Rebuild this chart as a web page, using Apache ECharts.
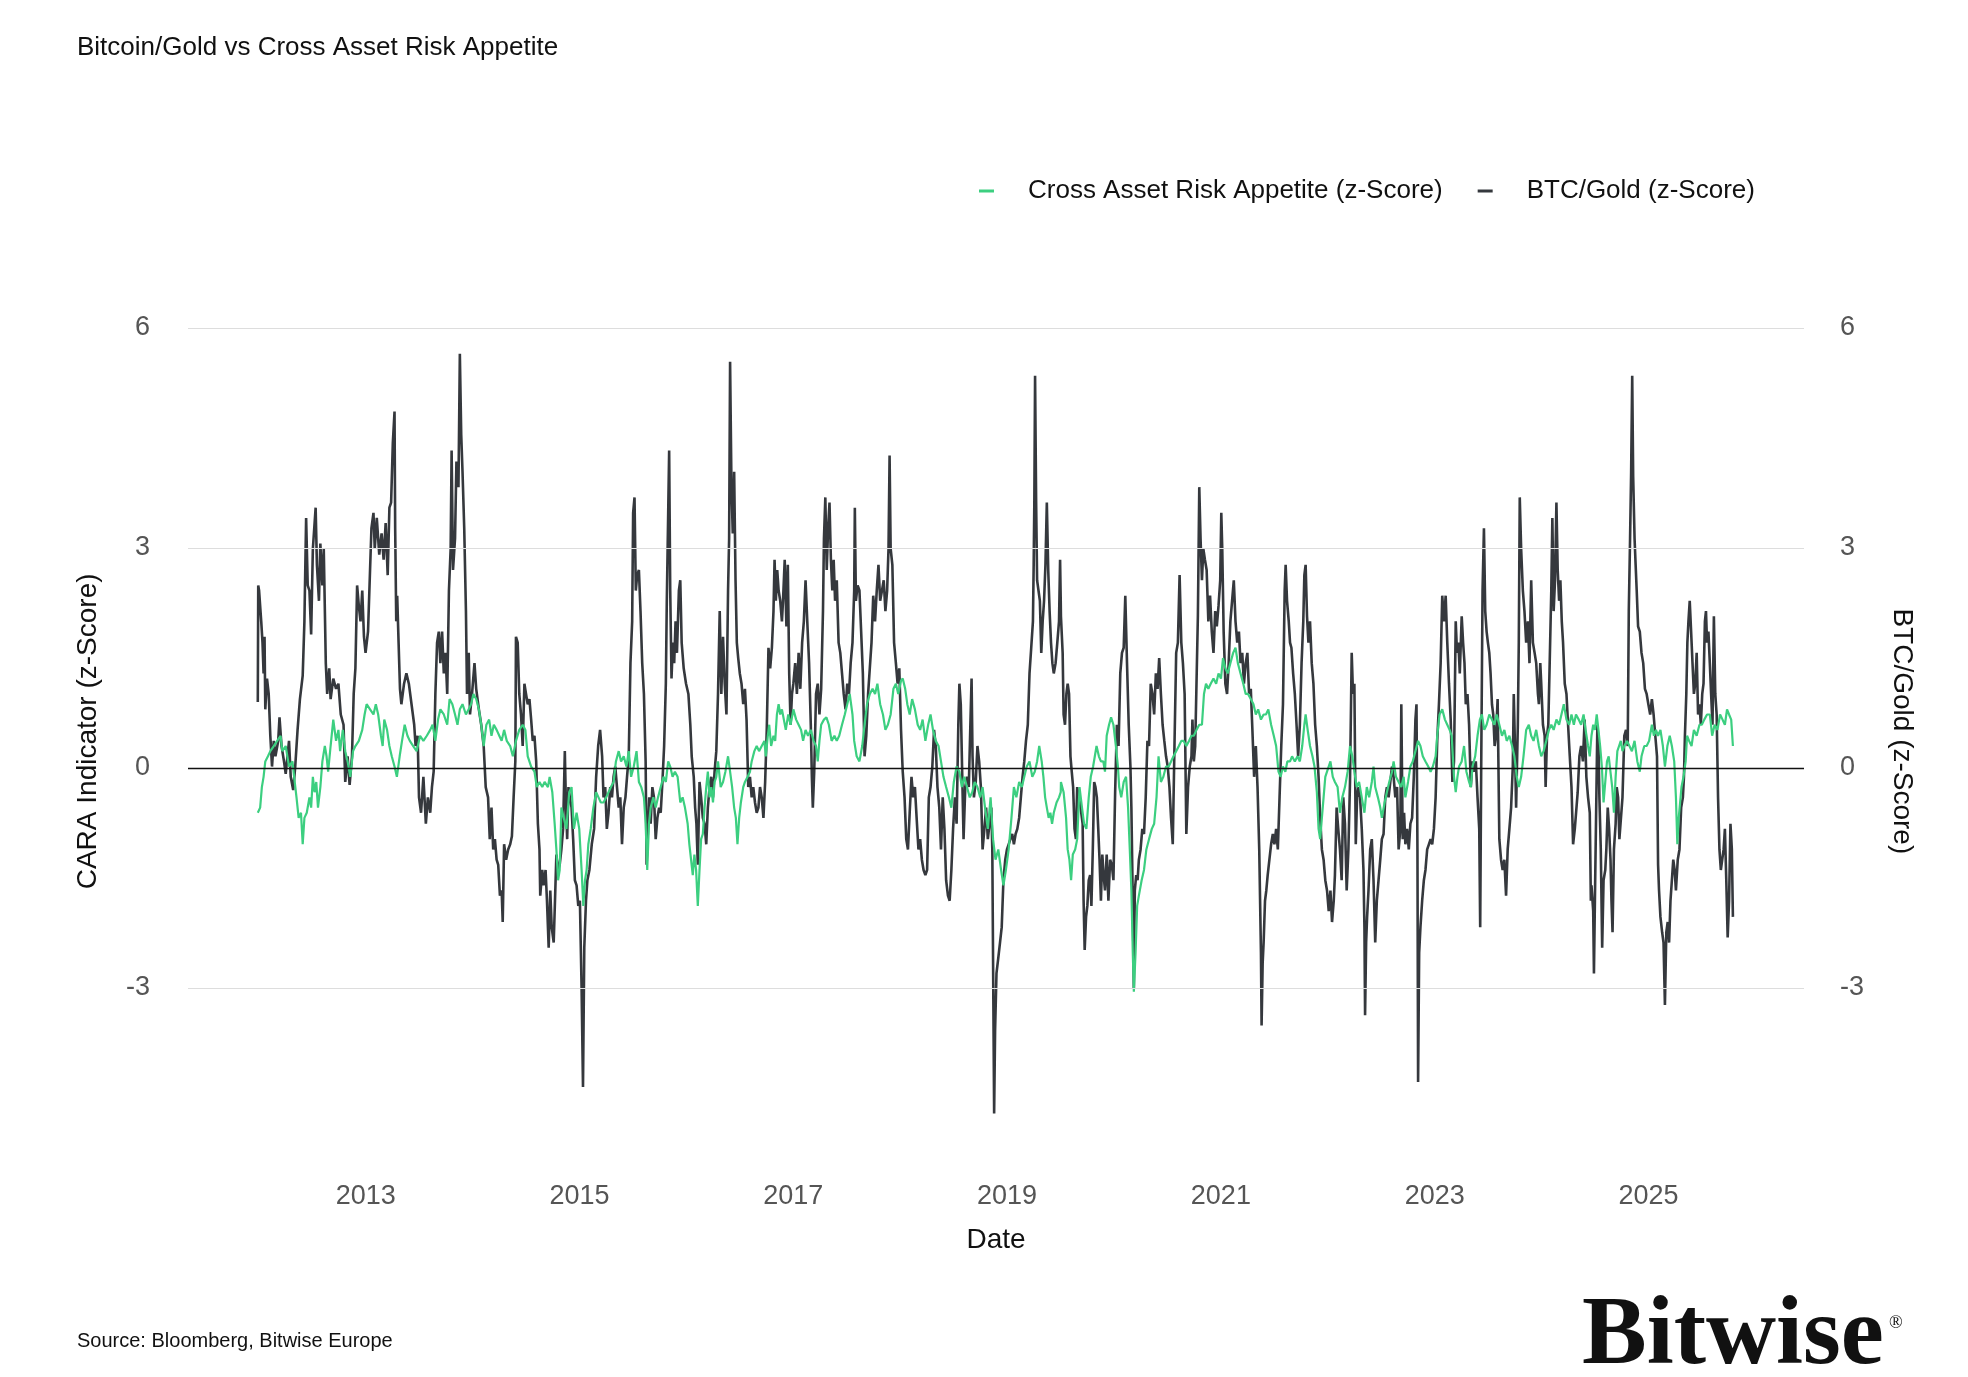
<!DOCTYPE html>
<html>
<head>
<meta charset="utf-8">
<script src="https://cdn.jsdelivr.net/npm/echarts@6/dist/echarts.min.js"></script>
<style>
html,body{margin:0;padding:0;background:#ffffff;}
#chart{width:1968px;height:1377px;}
</style>
</head>
<body>
<div id="chart"></div>
<script>
// ---------- data (decimal year, z-score) ----------
const xTickYears = [2013, 2015, 2017, 2019, 2021, 2023, 2025];
const yTickValues = [-3, 0, 3, 6];
const seriesNames = ['Cross Asset Risk Appetite (z-Score)', 'BTC/Gold (z-Score)'];

const cara = [
[2011.991,-0.61],[2012.013,-0.54],[2012.029,-0.26],[2012.045,-0.12],[2012.061,0.09],[2012.086,0.16],[2012.108,0.23],[2012.140,0.30],[2012.172,0.37],[2012.204,0.44],[2012.220,0.23],[2012.252,0.30],[2012.283,0.02],[2012.315,0.09],[2012.331,-0.12],[2012.353,-0.40],[2012.373,-0.68],[2012.395,-0.61],[2012.411,-1.04],[2012.427,-0.68],[2012.449,-0.61],[2012.474,-0.40],[2012.490,-0.54],[2012.506,-0.12],[2012.522,-0.33],[2012.538,-0.19],[2012.554,-0.54],[2012.576,-0.26],[2012.595,0.09],[2012.618,0.30],[2012.634,0.16],[2012.649,-0.05],[2012.672,0.30],[2012.697,0.66],[2012.723,0.37],[2012.745,0.52],[2012.761,0.23],[2012.786,0.52],[2012.809,0.23],[2012.831,0.09],[2012.856,-0.12],[2012.882,0.23],[2012.904,0.30],[2012.936,0.37],[2012.968,0.52],[2012.990,0.73],[2013.009,0.87],[2013.041,0.80],[2013.073,0.73],[2013.095,0.87],[2013.117,0.73],[2013.143,0.44],[2013.159,0.30],[2013.174,0.66],[2013.200,0.52],[2013.222,0.30],[2013.244,0.16],[2013.270,0.02],[2013.292,-0.12],[2013.318,0.16],[2013.340,0.37],[2013.365,0.59],[2013.391,0.44],[2013.413,0.37],[2013.445,0.30],[2013.477,0.23],[2013.509,0.44],[2013.540,0.37],[2013.572,0.44],[2013.604,0.52],[2013.626,0.59],[2013.652,0.37],[2013.677,0.66],[2013.699,0.80],[2013.731,0.73],[2013.763,0.59],[2013.785,0.94],[2013.811,0.87],[2013.836,0.73],[2013.859,0.59],[2013.881,0.80],[2013.906,0.87],[2013.938,0.73],[2013.964,0.80],[2013.986,0.87],[2014.008,1.01],[2014.034,0.94],[2014.059,0.80],[2014.081,0.59],[2014.104,0.30],[2014.129,0.59],[2014.155,0.66],[2014.177,0.44],[2014.199,0.59],[2014.225,0.52],[2014.250,0.44],[2014.272,0.37],[2014.295,0.52],[2014.320,0.37],[2014.352,0.30],[2014.377,0.16],
[2014.406,0.37],[2014.437,0.52],[2014.469,0.59],[2014.494,0.52],[2014.516,0.16],[2014.548,0.02],[2014.579,-0.05],[2014.601,-0.26],[2014.626,-0.19],[2014.652,-0.26],[2014.674,-0.19],[2014.705,-0.26],[2014.721,-0.12],[2014.746,-0.33],[2014.768,-0.76],[2014.784,-1.11],[2014.800,-1.53],[2014.815,-1.39],[2014.831,-0.54],[2014.853,-0.68],[2014.878,-0.83],[2014.904,-0.33],[2014.926,-0.26],[2014.948,-0.83],[2014.973,-0.61],[2014.998,-0.83],[2015.020,-1.39],[2015.036,-1.88],[2015.052,-1.53],[2015.067,-1.39],[2015.083,-1.04],[2015.105,-0.83],[2015.130,-0.54],[2015.156,-0.33],[2015.178,-0.40],[2015.200,-0.47],[2015.225,-0.47],[2015.250,-0.40],[2015.272,-0.33],[2015.294,-0.26],[2015.319,-0.19],[2015.341,0.09],[2015.367,0.23],[2015.389,0.09],[2015.414,0.16],[2015.439,0.02],[2015.461,0.23],[2015.483,-0.12],[2015.508,0.02],[2015.534,0.23],[2015.556,-0.19],[2015.578,-0.26],[2015.603,-0.40],[2015.619,-0.76],[2015.634,-1.39],[2015.650,-0.76],[2015.666,-0.54],[2015.691,-0.40],[2015.713,-0.54],[2015.735,-0.40],[2015.760,-0.26],[2015.786,-0.12],[2015.808,-0.19],[2015.830,0.09],[2015.849,0.02],[2015.871,-0.12],[2015.893,-0.05],[2015.918,-0.12],[2015.943,-0.47],[2015.965,-0.40],[2015.987,-0.54],[2016.012,-0.76],[2016.028,-1.04],[2016.044,-1.25],[2016.060,-1.46],[2016.075,-1.18],[2016.091,-1.39],[2016.107,-1.88],[2016.123,-1.39],[2016.138,-0.97],[2016.154,-0.90],[2016.170,-0.54],[2016.186,-0.26],[2016.201,-0.05],[2016.217,-0.40],[2016.233,-0.26],[2016.249,-0.47],[2016.264,-0.19],[2016.280,-0.12],[2016.296,0.09],[2016.321,-0.26],[2016.343,-0.19],[2016.365,-0.05],[2016.390,0.16],[2016.409,-0.05],[2016.428,-0.26],[2016.447,-0.54],[2016.463,-0.68],[2016.478,-1.04],[2016.494,-0.68],[2016.510,-0.47],[2016.532,-0.26],[2016.548,-0.19],[2016.573,-0.12],[2016.595,-0.05],[2016.611,0.09],[2016.636,0.23],[2016.658,0.30],[2016.680,0.23],[2016.705,0.30],[2016.730,0.37],[2016.743,0.16],[2016.762,0.44],[2016.775,0.59],[2016.793,0.30],[2016.815,0.44],[2016.831,0.37],[2016.847,0.73],[2016.863,0.87],[2016.878,0.73],[2016.894,0.80],
[2016.904,0.80],[2016.930,0.52],[2016.953,0.73],[2016.975,0.59],[2017.001,0.80],[2017.027,0.66],[2017.050,0.59],[2017.073,0.52],[2017.092,0.37],[2017.115,0.52],[2017.138,0.44],[2017.164,0.52],[2017.190,0.37],[2017.213,0.30],[2017.229,0.09],[2017.245,0.37],[2017.261,0.59],[2017.287,0.66],[2017.310,0.69],[2017.333,0.59],[2017.359,0.37],[2017.385,0.44],[2017.407,0.37],[2017.430,0.44],[2017.456,0.59],[2017.482,0.73],[2017.505,0.87],[2017.528,1.01],[2017.554,0.73],[2017.570,0.37],[2017.593,0.16],[2017.619,0.09],[2017.645,0.30],[2017.667,0.59],[2017.690,0.87],[2017.716,1.01],[2017.742,1.08],[2017.765,1.01],[2017.787,1.15],[2017.813,0.87],[2017.839,0.73],[2017.862,0.52],[2017.885,0.59],[2017.911,0.73],[2017.937,1.08],[2017.960,1.15],[2017.982,1.01],[2018.008,1.19],[2018.024,1.22],[2018.047,1.08],[2018.067,0.87],[2018.089,0.73],[2018.112,0.94],[2018.138,0.80],[2018.164,0.59],[2018.187,0.52],[2018.210,0.66],[2018.236,0.37],[2018.262,0.59],[2018.284,0.73],[2018.307,0.52],[2018.333,0.37],[2018.359,0.30],[2018.382,0.09],[2018.405,-0.12],[2018.430,-0.26],[2018.456,-0.40],[2018.479,-0.54],[2018.502,-0.19],[2018.528,0.02],[2018.554,-0.05],[2018.577,-0.26],[2018.599,-0.12],[2018.625,-0.26],[2018.651,-0.40],[2018.674,-0.33],[2018.697,-0.19],[2018.723,-0.26],[2018.749,-0.40],[2018.771,-0.26],[2018.794,-0.54],[2018.820,-0.83],[2018.846,-0.40],[2018.869,-0.97],[2018.892,-1.25],[2018.918,-1.11],[2018.944,-1.39],[2018.966,-1.60],[2018.989,-1.39],[2019.015,-1.11],[2019.041,-0.68],[2019.064,-0.26],[2019.087,-0.40],[2019.113,-0.19],[2019.138,-0.26],[2019.161,-0.12],[2019.184,0.02],[2019.210,0.09],[2019.236,-0.12],[2019.259,-0.05],[2019.281,0.09],[2019.301,0.30],[2019.324,0.09],[2019.340,-0.12],[2019.356,-0.40],[2019.372,-0.54],[2019.389,-0.68],[2019.405,-0.61],[2019.421,-0.76],[2019.437,-0.61],[2019.463,-0.47],[2019.486,-0.40],[2019.502,-0.33],
[2019.504,-0.19],[2019.529,-0.33],[2019.552,-0.68],[2019.567,-1.11],[2019.583,-1.25],[2019.599,-1.53],[2019.615,-1.18],[2019.637,-1.11],[2019.656,-0.97],[2019.678,-0.26],[2019.701,-0.54],[2019.720,-0.76],[2019.742,-0.83],[2019.764,-0.40],[2019.783,-0.12],[2019.805,0.02],[2019.821,0.16],[2019.837,0.30],[2019.859,0.16],[2019.878,0.09],[2019.900,0.09],[2019.916,-0.05],[2019.932,0.44],[2019.954,0.59],[2019.973,0.69],[2019.995,0.59],[2020.018,0.30],[2020.037,0.02],[2020.049,-0.26],[2020.068,-0.40],[2020.091,-0.19],[2020.113,-0.12],[2020.132,-0.54],[2020.148,-1.11],[2020.163,-1.67],[2020.176,-2.52],[2020.186,-3.05],[2020.202,-2.52],[2020.217,-1.88],[2020.233,-1.74],[2020.259,-1.53],[2020.281,-1.39],[2020.303,-1.11],[2020.328,-0.97],[2020.354,-0.83],[2020.376,-0.76],[2020.398,-0.40],[2020.417,0.16],[2020.439,-0.19],[2020.462,-0.12],[2020.487,0.02],[2020.512,0.02],[2020.534,0.09],[2020.557,0.16],[2020.582,0.23],[2020.607,0.30],[2020.630,0.37],[2020.652,0.37],[2020.677,0.30],[2020.702,0.37],[2020.725,0.44],[2020.747,0.44],[2020.772,0.52],[2020.798,0.59],[2020.823,0.59],[2020.842,1.01],[2020.861,1.15],[2020.883,1.08],[2020.905,1.15],[2020.931,1.22],[2020.956,1.15],[2020.978,1.29],[2021.001,1.22],[2021.020,1.50],[2021.042,1.36],[2021.064,1.29],[2021.089,1.43],[2021.115,1.57],[2021.137,1.64],[2021.159,1.43],[2021.184,1.29],[2021.210,1.15],[2021.232,1.01],[2021.254,1.01],[2021.280,0.94],[2021.305,0.87],[2021.327,0.73],[2021.349,0.80],[2021.375,0.66],[2021.400,0.73],[2021.422,0.73],[2021.444,0.80],[2021.470,0.59],[2021.495,0.44],[2021.517,0.30],[2021.539,-0.05],[2021.559,-0.12],[2021.581,0.02],[2021.603,-0.05],[2021.622,0.09],[2021.647,0.09],[2021.666,0.16],[2021.692,0.09],[2021.717,0.16],[2021.739,0.09],[2021.761,0.30],[2021.781,0.59],[2021.793,0.73],[2021.812,0.52],[2021.834,0.30],[2021.857,0.16],[2021.876,0.02],[2021.898,-0.33],[2021.914,-0.83],[2021.929,-0.97],[2021.945,-0.68],[2021.961,-0.40],[2021.977,-0.12],[2021.993,-0.05],[2022.025,0.09],[2022.047,-0.12],
[2022.067,-0.19],[2022.092,-0.26],[2022.114,-0.61],[2022.136,-0.40],[2022.161,-0.26],[2022.186,-0.05],[2022.208,0.30],[2022.230,0.16],[2022.249,-0.05],[2022.271,-0.26],[2022.293,-0.19],[2022.318,-0.40],[2022.343,-0.61],[2022.365,-0.26],[2022.387,-0.40],[2022.412,-0.19],[2022.428,0.02],[2022.444,-0.26],[2022.469,-0.40],[2022.491,-0.54],[2022.506,-0.68],[2022.532,-0.47],[2022.553,-0.33],[2022.575,-0.19],[2022.601,-0.05],[2022.616,0.09],[2022.638,-0.12],[2022.663,-0.19],[2022.688,-0.26],[2022.710,-0.12],[2022.726,-0.40],[2022.751,-0.19],[2022.773,0.02],[2022.795,0.09],[2022.820,0.23],[2022.845,0.37],[2022.867,0.30],[2022.889,0.16],[2022.914,0.09],[2022.940,0.02],[2022.962,-0.05],[2022.983,0.02],[2023.009,0.16],[2023.024,0.44],[2023.046,0.73],[2023.071,0.80],[2023.096,0.66],[2023.118,0.59],[2023.140,0.52],[2023.159,0.44],[2023.181,-0.12],[2023.197,-0.33],[2023.213,-0.12],[2023.228,0.02],[2023.253,0.09],[2023.275,0.30],[2023.297,-0.05],[2023.322,-0.19],[2023.338,-0.26],[2023.354,0.02],[2023.379,0.16],[2023.401,0.44],[2023.423,0.66],[2023.442,0.73],[2023.464,0.52],[2023.486,0.59],[2023.511,0.73],[2023.536,0.66],[2023.558,0.59],[2023.580,0.73],[2023.605,0.59],[2023.630,0.44],[2023.652,0.52],[2023.674,0.37],[2023.699,0.44],[2023.724,0.30],[2023.746,0.16],[2023.768,-0.12],[2023.787,-0.26],[2023.809,-0.12],[2023.831,0.16],[2023.856,0.52],[2023.881,0.59],[2023.903,0.44],[2023.925,0.37],[2023.950,0.52],[2023.975,0.30],[2023.997,0.16],[2024.019,0.23],[2024.044,0.37],[2024.069,0.52],[2024.091,0.59],[2024.113,0.52],[2024.139,0.66],[2024.164,0.59],[2024.186,0.73],[2024.208,0.87],[2024.233,0.66],[2024.258,0.59],[2024.280,0.73],[2024.302,0.59],
[2024.322,0.73],[2024.348,0.66],[2024.370,0.59],[2024.393,0.73],[2024.412,0.52],[2024.435,0.30],[2024.451,0.16],[2024.467,0.44],[2024.483,0.59],[2024.499,0.52],[2024.516,0.73],[2024.532,0.52],[2024.548,0.30],[2024.564,0.02],[2024.580,-0.47],[2024.596,-0.19],[2024.612,0.09],[2024.628,0.16],[2024.645,0.16],[2024.661,-0.26],[2024.677,-0.61],[2024.693,-0.12],[2024.709,0.23],[2024.725,0.30],[2024.741,0.37],[2024.757,0.23],[2024.774,0.30],[2024.799,0.37],[2024.822,0.30],[2024.845,0.23],[2024.870,0.37],[2024.896,0.09],[2024.919,-0.05],[2024.935,0.16],[2024.961,0.30],[2024.983,0.30],[2025.006,0.37],[2025.032,0.59],[2025.051,0.44],[2025.070,0.52],[2025.090,0.44],[2025.112,0.52],[2025.135,0.30],[2025.154,0.02],[2025.177,0.30],[2025.199,0.44],[2025.219,0.30],[2025.241,0.09],[2025.257,-0.40],[2025.270,-1.04],[2025.283,-0.68],[2025.296,-0.47],[2025.309,-0.26],[2025.328,-0.12],[2025.348,0.09],[2025.361,0.44],[2025.380,0.37],[2025.403,0.30],[2025.425,0.52],[2025.451,0.44],[2025.477,0.59],[2025.499,0.59],[2025.522,0.66],[2025.548,0.73],[2025.574,0.73],[2025.596,0.44],[2025.619,0.59],[2025.645,0.52],[2025.670,0.73],[2025.693,0.66],[2025.715,0.59],[2025.735,0.80],[2025.754,0.73],[2025.774,0.66],[2025.790,0.30]
];

const btcGold = [
[2011.991,0.90],[2011.995,2.49],[2012.003,2.42],[2012.023,2.00],[2012.035,1.71],[2012.045,1.29],[2012.054,1.79],[2012.061,0.80],[2012.077,1.22],[2012.093,1.01],[2012.108,0.44],[2012.124,0.02],[2012.140,0.37],[2012.156,0.16],[2012.182,0.37],[2012.194,0.69],[2012.213,0.30],[2012.236,0.09],[2012.252,-0.08],[2012.283,0.37],[2012.299,-0.12],[2012.322,-0.30],[2012.341,0.02],[2012.363,0.52],[2012.385,0.94],[2012.411,1.26],[2012.427,2.00],[2012.443,3.41],[2012.458,2.49],[2012.474,2.42],[2012.490,1.82],[2012.506,2.99],[2012.532,3.55],[2012.544,2.77],[2012.563,2.28],[2012.576,3.06],[2012.595,2.49],[2012.608,2.99],[2012.627,1.43],[2012.640,1.01],[2012.659,1.36],[2012.672,0.94],[2012.697,1.22],[2012.723,1.08],[2012.745,1.15],[2012.767,0.73],[2012.793,0.59],[2012.809,-0.19],[2012.831,0.16],[2012.850,-0.23],[2012.872,0.16],[2012.888,1.01],[2012.904,1.36],[2012.920,2.49],[2012.936,2.21],[2012.952,2.00],[2012.968,2.42],[2012.984,1.79],[2012.999,1.57],[2013.022,1.86],[2013.041,2.70],[2013.054,3.27],[2013.073,3.48],[2013.085,2.99],[2013.104,3.41],[2013.127,2.91],[2013.149,3.20],[2013.168,2.84],[2013.187,3.34],[2013.206,2.63],[2013.222,3.55],[2013.238,3.62],[2013.254,4.43],[2013.270,4.86],[2013.276,3.27],[2013.286,2.00],[2013.295,2.35],[2013.308,1.71],[2013.321,1.08],[2013.334,0.87],[2013.359,1.15],[2013.381,1.29],[2013.404,1.15],[2013.429,0.87],[2013.454,0.59],[2013.467,0.30],[2013.486,0.44],[2013.499,-0.40],[2013.518,-0.61],[2013.540,-0.12],[2013.563,-0.76],[2013.582,-0.40],[2013.604,-0.61],[2013.620,-0.26],[2013.636,-0.05],[2013.652,1.01],[2013.668,1.71],[2013.684,1.86],[2013.699,1.43],[2013.715,1.86],[2013.731,1.29],[2013.747,1.57],[2013.763,1.01],[2013.779,2.42],[2013.795,2.99],[2013.804,4.33],[2013.817,2.70],[2013.836,3.13],[2013.849,4.18],[2013.868,3.83],[2013.881,5.65],[2013.894,4.54],[2013.906,4.04],[2013.922,3.27],[2013.938,2.14],[2013.948,1.01],[2013.964,1.57],[2013.976,0.73],[2013.995,1.01],[2014.018,1.43],[2014.034,1.08],[2014.059,0.80],[2014.081,0.59],[2014.104,0.30],[2014.123,-0.26],[2014.145,-0.40],[2014.161,-0.97],[2014.177,-0.54],[2014.193,-1.11],[2014.209,-0.97],[2014.225,-1.25],[2014.240,-1.32],[2014.256,-1.74],[2014.272,-1.67],[2014.282,-2.10],[2014.295,-1.04],[2014.314,-1.25],[2014.333,-1.11],[2014.352,-1.04],[2014.368,-0.93],[2014.384,-0.40],[2014.400,0.09],
[2014.406,1.79],[2014.422,1.71],[2014.437,1.01],[2014.453,0.73],[2014.469,0.30],[2014.485,1.15],[2014.500,1.01],[2014.516,0.87],[2014.532,0.94],[2014.548,0.66],[2014.563,0.37],[2014.579,0.44],[2014.595,0.09],[2014.611,-0.76],[2014.626,-1.11],[2014.633,-1.74],[2014.652,-1.39],[2014.664,-1.60],[2014.683,-1.39],[2014.696,-1.81],[2014.712,-2.45],[2014.727,-1.67],[2014.740,-2.17],[2014.759,-2.38],[2014.771,-1.81],[2014.784,-1.18],[2014.800,-1.39],[2014.815,-1.32],[2014.831,-1.11],[2014.847,-0.83],[2014.863,0.23],[2014.872,-0.40],[2014.885,-0.97],[2014.897,-0.26],[2014.910,-0.40],[2014.926,-0.54],[2014.941,-0.97],[2014.957,-1.53],[2014.973,-1.60],[2014.989,-1.88],[2015.004,-1.81],[2015.020,-3.01],[2015.033,-4.35],[2015.045,-2.45],[2015.061,-1.81],[2015.074,-1.53],[2015.093,-1.39],[2015.115,-1.04],[2015.137,-0.83],[2015.156,-0.12],[2015.175,0.30],[2015.193,0.52],[2015.212,0.16],[2015.225,-0.40],[2015.241,-0.26],[2015.256,-0.83],[2015.272,-0.61],[2015.288,-0.26],[2015.304,-0.40],[2015.319,-0.12],[2015.335,0.02],[2015.351,-0.26],[2015.367,-0.54],[2015.382,-0.40],[2015.398,-1.04],[2015.414,-0.54],[2015.430,-0.40],[2015.445,-0.12],[2015.461,0.16],[2015.477,1.43],[2015.493,2.00],[2015.502,3.48],[2015.515,3.69],[2015.527,2.42],[2015.540,2.63],[2015.556,2.70],[2015.571,2.14],[2015.587,1.43],[2015.603,1.01],[2015.619,0.09],[2015.628,-1.32],[2015.641,-0.83],[2015.653,-0.40],[2015.666,-0.76],[2015.682,-0.26],[2015.697,-0.40],[2015.713,-0.97],[2015.729,-0.68],[2015.745,-0.54],[2015.760,-0.61],[2015.776,-0.19],[2015.792,0.30],[2015.808,1.15],[2015.817,2.28],[2015.830,3.48],[2015.839,4.33],[2015.849,2.42],[2015.861,1.22],[2015.874,1.71],[2015.886,1.43],[2015.899,2.00],[2015.912,1.57],[2015.930,2.42],[2015.943,2.56],[2015.956,1.71],[2015.975,1.36],[2015.997,1.15],[2016.019,1.01],[2016.037,0.59],[2016.050,0.16],[2016.069,-0.12],[2016.082,-0.54],[2016.094,-0.76],[2016.107,-1.32],[2016.123,-0.19],[2016.138,-0.40],[2016.154,-0.68],[2016.170,-0.76],[2016.186,-1.04],[2016.201,-0.54],[2016.217,-0.26],[2016.233,-0.12],[2016.249,-0.40],[2016.264,-0.05],[2016.280,0.23],[2016.296,1.01],[2016.312,2.14],[2016.327,1.01],[2016.343,1.79],[2016.359,1.15],[2016.375,0.73],[2016.390,2.42],[2016.400,3.13],[2016.409,5.54],[2016.422,3.83],[2016.434,3.20],[2016.447,4.04],[2016.460,2.56],[2016.472,1.71],[2016.485,1.50],[2016.500,1.29],[2016.516,1.15],[2016.532,0.87],[2016.548,1.08],[2016.563,0.66],[2016.579,-0.26],[2016.595,-0.12],[2016.611,-0.40],[2016.626,-0.26],[2016.642,-0.47],[2016.658,-0.61],[2016.674,-0.54],[2016.689,-0.26],[2016.705,-0.40],[2016.721,-0.68],[2016.737,-0.19],[2016.752,0.52],[2016.768,1.64],[2016.784,1.36],[2016.800,1.64],[2016.815,2.14],[2016.825,2.84],[2016.837,2.28],[2016.850,2.70],[2016.863,2.42],[2016.878,2.28],[2016.894,2.00],
[2016.904,2.28],[2016.920,2.84],[2016.936,1.93],[2016.949,2.77],[2016.962,1.29],[2016.975,0.59],[2016.988,1.01],[2017.001,1.15],[2017.018,1.43],[2017.034,1.01],[2017.050,1.57],[2017.066,1.08],[2017.083,1.71],[2017.099,2.00],[2017.115,2.56],[2017.131,2.00],[2017.148,1.43],[2017.164,0.59],[2017.174,-0.12],[2017.183,-0.54],[2017.196,-0.05],[2017.213,1.01],[2017.229,1.15],[2017.245,0.73],[2017.261,1.08],[2017.278,2.14],[2017.287,3.13],[2017.300,3.69],[2017.313,2.70],[2017.326,3.27],[2017.339,3.62],[2017.352,2.84],[2017.365,2.42],[2017.378,2.84],[2017.391,2.28],[2017.407,2.56],[2017.424,1.71],[2017.440,1.57],[2017.456,1.29],[2017.472,1.01],[2017.489,0.80],[2017.505,1.15],[2017.521,1.01],[2017.537,1.43],[2017.554,1.71],[2017.570,2.42],[2017.576,3.55],[2017.586,2.28],[2017.602,2.49],[2017.619,2.42],[2017.635,1.86],[2017.651,1.29],[2017.667,0.16],[2017.683,0.44],[2017.700,1.01],[2017.716,1.36],[2017.732,1.71],[2017.748,2.35],[2017.765,2.00],[2017.781,2.42],[2017.797,2.77],[2017.813,2.28],[2017.830,2.42],[2017.846,2.56],[2017.862,2.14],[2017.878,2.42],[2017.891,2.99],[2017.901,4.26],[2017.911,2.99],[2017.927,2.77],[2017.943,1.71],[2017.960,1.43],[2017.976,1.15],[2017.992,1.36],[2018.008,0.52],[2018.024,-0.05],[2018.041,-0.40],[2018.057,-0.97],[2018.073,-1.11],[2018.089,-0.61],[2018.106,-0.12],[2018.122,-0.40],[2018.138,-0.26],[2018.154,-0.68],[2018.171,-1.11],[2018.187,-0.97],[2018.203,-1.25],[2018.219,-1.39],[2018.236,-1.46],[2018.252,-1.39],[2018.268,-0.40],[2018.284,-0.26],[2018.301,0.02],[2018.317,0.52],[2018.333,0.30],[2018.349,-0.26],[2018.366,-0.54],[2018.382,-1.11],[2018.398,-0.40],[2018.414,-0.83],[2018.430,-1.53],[2018.447,-1.74],[2018.463,-1.81],[2018.479,-1.39],[2018.495,-0.83],[2018.512,-0.40],[2018.528,-0.76],[2018.544,0.59],[2018.554,1.15],[2018.567,0.87],[2018.580,-0.05],[2018.593,-0.97],[2018.609,-0.26],[2018.625,-0.12],[2018.642,-0.26],[2018.658,0.66],[2018.668,1.22],[2018.677,0.16],[2018.690,-0.40],[2018.707,-0.19],[2018.723,0.30],[2018.739,0.09],[2018.755,-0.26],[2018.771,-1.11],[2018.788,-0.83],[2018.804,-0.54],[2018.820,-0.97],[2018.836,-0.76],[2018.853,-0.54],[2018.862,-1.11],[2018.872,-3.23],[2018.879,-4.71],[2018.888,-3.58],[2018.901,-2.80],[2018.918,-2.59],[2018.934,-2.38],[2018.950,-2.17],[2018.966,-1.53],[2018.983,-1.25],[2018.999,-1.11],[2019.015,-1.04],[2019.031,-0.97],[2019.048,-0.90],[2019.064,-1.04],[2019.080,-0.90],[2019.096,-0.83],[2019.113,-0.68],[2019.129,-0.40],[2019.145,-0.12],[2019.161,0.09],[2019.177,0.37],[2019.194,0.59],[2019.210,1.29],[2019.226,1.64],[2019.242,2.00],[2019.249,2.77],[2019.255,3.62],[2019.262,5.35],[2019.272,3.62],[2019.281,2.56],[2019.294,2.42],[2019.307,2.28],[2019.320,1.57],[2019.333,2.00],[2019.346,2.28],[2019.359,2.77],[2019.372,3.62],[2019.385,2.70],[2019.398,2.14],[2019.411,1.71],[2019.424,1.43],[2019.437,1.29],[2019.454,1.43],[2019.470,1.71],[2019.486,2.00],[2019.496,2.84],[2019.502,2.28],
[2019.504,2.07],[2019.520,1.57],[2019.529,0.73],[2019.542,0.59],[2019.555,1.01],[2019.567,1.15],[2019.580,1.01],[2019.593,0.16],[2019.605,-0.05],[2019.618,-0.26],[2019.631,-0.83],[2019.644,-0.97],[2019.656,-0.26],[2019.669,-0.40],[2019.682,-0.47],[2019.694,-0.61],[2019.707,-0.76],[2019.716,-1.81],[2019.726,-2.48],[2019.739,-2.03],[2019.751,-1.88],[2019.764,-1.53],[2019.777,-1.46],[2019.789,-1.88],[2019.802,-1.11],[2019.815,-0.19],[2019.827,-0.26],[2019.840,-0.40],[2019.853,-0.83],[2019.865,-1.25],[2019.878,-1.81],[2019.891,-1.18],[2019.903,-1.46],[2019.916,-1.67],[2019.932,-1.18],[2019.948,-1.81],[2019.964,-1.25],[2019.980,-1.32],[2019.995,-1.53],[2020.011,-0.33],[2020.027,0.59],[2020.043,0.30],[2020.059,1.29],[2020.075,1.57],[2020.091,1.64],[2020.106,2.35],[2020.122,1.43],[2020.138,0.59],[2020.154,0.02],[2020.163,-0.54],[2020.176,-1.81],[2020.186,-3.01],[2020.195,-1.67],[2020.208,-1.46],[2020.221,-1.53],[2020.233,-1.25],[2020.249,-1.11],[2020.265,-0.83],[2020.281,-0.90],[2020.297,-0.40],[2020.313,0.37],[2020.328,0.30],[2020.344,1.15],[2020.360,1.01],[2020.376,0.73],[2020.392,1.29],[2020.408,1.08],[2020.423,1.50],[2020.439,1.01],[2020.455,0.59],[2020.471,0.37],[2020.487,0.16],[2020.503,0.02],[2020.519,-0.26],[2020.534,-0.68],[2020.550,-1.04],[2020.566,0.30],[2020.582,1.57],[2020.598,1.71],[2020.614,2.63],[2020.630,1.71],[2020.645,1.43],[2020.661,1.01],[2020.677,-0.90],[2020.693,-0.26],[2020.709,0.02],[2020.725,0.16],[2020.734,0.66],[2020.747,0.09],[2020.760,0.30],[2020.772,1.15],[2020.785,2.07],[2020.798,3.83],[2020.810,3.13],[2020.823,2.56],[2020.836,2.99],[2020.851,2.84],[2020.867,2.70],[2020.883,2.00],[2020.899,2.35],[2020.915,1.86],[2020.931,1.57],[2020.947,2.14],[2020.962,1.93],[2020.978,2.21],[2020.994,2.56],[2021.004,3.48],[2021.013,2.99],[2021.026,1.86],[2021.042,1.15],[2021.058,1.01],[2021.073,1.43],[2021.089,2.00],[2021.105,2.28],[2021.121,2.56],[2021.137,2.00],[2021.153,1.71],[2021.169,1.86],[2021.184,1.43],[2021.200,1.57],[2021.216,1.15],[2021.232,1.43],[2021.248,1.57],[2021.264,1.01],[2021.280,1.08],[2021.295,0.52],[2021.311,-0.12],[2021.327,0.30],[2021.343,-0.26],[2021.359,-1.11],[2021.375,-2.52],[2021.381,-3.51],[2021.391,-2.66],[2021.400,-2.38],[2021.413,-1.81],[2021.425,-1.67],[2021.438,-1.46],[2021.454,-1.25],[2021.470,-1.04],[2021.486,-0.90],[2021.501,-1.04],[2021.517,-0.83],[2021.533,-1.11],[2021.549,-0.40],[2021.565,0.30],[2021.581,0.87],[2021.597,2.42],[2021.606,2.77],[2021.619,2.28],[2021.635,2.00],[2021.647,1.71],[2021.660,1.64],[2021.676,1.29],[2021.692,1.01],[2021.708,0.59],[2021.723,0.16],[2021.739,0.59],[2021.755,1.43],[2021.771,2.00],[2021.781,2.63],[2021.793,2.77],[2021.806,2.07],[2021.819,1.71],[2021.834,2.00],[2021.850,1.43],[2021.866,1.15],[2021.882,0.59],[2021.898,0.30],[2021.914,-0.12],[2021.929,-0.68],[2021.945,-1.11],[2021.961,-1.25],[2021.977,-1.53],[2021.993,-1.67],[2022.009,-1.95],[2022.025,-1.67],[2022.040,-2.10],[2022.056,-1.81],
[2022.067,-1.46],[2022.083,-0.54],[2022.098,-0.83],[2022.114,-1.11],[2022.130,-1.53],[2022.145,-0.40],[2022.161,-0.76],[2022.177,-1.67],[2022.193,-1.11],[2022.208,-0.19],[2022.224,1.57],[2022.236,1.01],[2022.249,1.15],[2022.262,-1.04],[2022.274,-0.40],[2022.287,-0.26],[2022.302,-0.40],[2022.318,-0.83],[2022.334,-1.39],[2022.343,-2.17],[2022.349,-3.37],[2022.359,-2.38],[2022.368,-2.03],[2022.381,-1.67],[2022.397,-1.11],[2022.412,-0.97],[2022.428,-1.53],[2022.444,-2.38],[2022.459,-1.81],[2022.475,-1.53],[2022.491,-1.25],[2022.506,-0.97],[2022.522,-0.90],[2022.538,-0.40],[2022.553,-0.26],[2022.569,-0.40],[2022.585,-0.19],[2022.601,0.02],[2022.616,-0.12],[2022.632,-0.40],[2022.648,-0.26],[2022.663,-1.11],[2022.679,-0.83],[2022.688,0.87],[2022.701,-0.97],[2022.714,-0.61],[2022.726,-1.04],[2022.742,-0.83],[2022.758,-1.11],[2022.773,-0.76],[2022.789,-0.68],[2022.805,-0.12],[2022.820,0.66],[2022.830,0.87],[2022.839,-1.11],[2022.845,-4.28],[2022.855,-2.52],[2022.867,-2.17],[2022.883,-1.81],[2022.899,-1.53],[2022.914,-1.39],[2022.930,-1.11],[2022.946,-1.04],[2022.962,-0.97],[2022.977,-1.04],[2022.993,-0.83],[2023.009,-0.40],[2023.024,0.37],[2023.040,0.87],[2023.056,1.43],[2023.071,2.35],[2023.087,2.00],[2023.103,2.35],[2023.118,1.71],[2023.134,1.15],[2023.150,0.66],[2023.166,-0.19],[2023.181,0.09],[2023.197,2.00],[2023.209,1.57],[2023.222,1.71],[2023.235,1.29],[2023.253,2.07],[2023.266,1.71],[2023.279,1.43],[2023.291,0.87],[2023.307,1.01],[2023.322,0.59],[2023.338,-0.26],[2023.354,0.09],[2023.370,-0.05],[2023.385,0.09],[2023.401,-0.40],[2023.417,-0.83],[2023.426,-2.17],[2023.435,-0.05],[2023.448,2.42],[2023.461,3.27],[2023.473,2.14],[2023.486,1.86],[2023.498,1.71],[2023.511,1.57],[2023.523,1.29],[2023.536,0.87],[2023.548,0.73],[2023.561,0.30],[2023.574,0.44],[2023.589,0.94],[2023.605,-0.97],[2023.621,-1.25],[2023.636,-1.39],[2023.652,-1.25],[2023.668,-1.74],[2023.683,-1.11],[2023.699,-0.83],[2023.715,-0.54],[2023.731,0.02],[2023.740,1.01],[2023.749,0.44],[2023.762,-0.54],[2023.778,0.59],[2023.787,1.71],[2023.796,3.69],[2023.809,2.99],[2023.825,2.42],[2023.840,2.14],[2023.856,1.71],[2023.872,2.00],[2023.887,1.43],[2023.903,2.56],[2023.919,1.71],[2023.935,1.57],[2023.950,1.43],[2023.966,1.01],[2023.975,0.87],[2023.988,1.43],[2023.997,1.15],[2024.013,0.59],[2024.029,0.44],[2024.038,-0.26],[2024.051,0.44],[2024.063,0.59],[2024.076,1.43],[2024.091,2.42],[2024.101,3.41],[2024.113,2.14],[2024.126,2.56],[2024.139,3.62],[2024.151,2.70],[2024.164,2.28],[2024.176,2.56],[2024.189,2.00],[2024.201,1.71],[2024.217,1.15],[2024.233,1.01],[2024.248,0.59],[2024.264,0.16],[2024.280,-0.26],[2024.295,-1.04],[2024.311,-0.83],
[2024.322,-0.83],[2024.338,-0.33],[2024.354,0.16],[2024.370,0.30],[2024.387,0.09],[2024.403,0.66],[2024.419,-0.12],[2024.435,-0.40],[2024.451,-0.61],[2024.461,-1.81],[2024.467,-1.60],[2024.483,-1.95],[2024.490,-2.80],[2024.499,-1.81],[2024.509,-0.76],[2024.522,0.59],[2024.532,0.37],[2024.541,-0.40],[2024.554,-1.11],[2024.567,-2.45],[2024.580,-1.53],[2024.596,-1.39],[2024.606,-1.11],[2024.619,-0.54],[2024.632,-0.83],[2024.645,-1.25],[2024.654,-1.81],[2024.664,-2.24],[2024.677,-1.11],[2024.693,-0.76],[2024.703,-0.26],[2024.716,-0.40],[2024.728,-0.97],[2024.741,-0.97],[2024.757,-0.40],[2024.774,0.44],[2024.790,0.52],[2024.806,0.30],[2024.816,2.14],[2024.828,3.13],[2024.838,4.04],[2024.848,5.35],[2024.857,3.97],[2024.870,3.13],[2024.880,2.77],[2024.890,2.42],[2024.903,1.93],[2024.919,1.86],[2024.935,1.57],[2024.951,1.43],[2024.967,1.08],[2024.983,1.01],[2024.999,0.87],[2025.016,0.73],[2025.032,0.94],[2025.048,0.73],[2025.064,0.44],[2025.080,0.16],[2025.090,-1.32],[2025.099,-1.67],[2025.112,-2.03],[2025.128,-2.24],[2025.141,-2.38],[2025.154,-3.23],[2025.167,-2.24],[2025.180,-2.10],[2025.193,-2.38],[2025.206,-1.81],[2025.219,-1.53],[2025.232,-1.25],[2025.245,-1.39],[2025.257,-1.67],[2025.274,-1.25],[2025.290,-1.11],[2025.306,-0.54],[2025.322,-0.40],[2025.332,-0.12],[2025.341,0.44],[2025.354,1.01],[2025.364,1.71],[2025.374,2.00],[2025.386,2.28],[2025.399,1.86],[2025.412,1.43],[2025.425,1.01],[2025.438,1.15],[2025.451,1.57],[2025.464,0.73],[2025.477,0.87],[2025.490,0.59],[2025.503,1.01],[2025.515,1.15],[2025.528,2.00],[2025.538,2.14],[2025.548,1.71],[2025.561,1.86],[2025.574,1.43],[2025.586,1.01],[2025.599,0.59],[2025.612,2.07],[2025.625,1.01],[2025.638,0.73],[2025.651,-0.40],[2025.664,-1.11],[2025.677,-1.39],[2025.690,-1.25],[2025.703,-1.11],[2025.715,-0.83],[2025.728,-1.53],[2025.741,-2.31],[2025.754,-1.81],[2025.767,-0.76],[2025.780,-1.11],[2025.790,-2.03]
];

// ---------- chart ----------
const FONT = '"Liberation Sans", Arial, Helvetica, sans-serif';
const chart = echarts.init(document.getElementById('chart'), null, { renderer: 'canvas' });

const option = {
  animation: false,
  backgroundColor: '#ffffff',
  title: {
    text: 'Bitcoin/Gold vs Cross Asset Risk Appetite',
    left: 77, top: 35, padding: 0,
    textStyle: { fontFamily: FONT, fontSize: 26, fontWeight: 'normal', color: '#111111' }
  },
  legend: {
    data: seriesNames,
    left: 979, top: 178, padding: 0,
    icon: 'rect', itemWidth: 15, itemHeight: 3, itemGap: 35,
    textStyle: { fontFamily: FONT, fontSize: 26, color: '#111111', padding: [0, 0, 0, 29] },
    selectedMode: false
  },
  grid: { left: 188, right: 164, top: 328, bottom: 242.3, containLabel: false },
  xAxis: {
    type: 'value', min: 2011.338, max: 2026.455,
    name: 'Date', nameLocation: 'middle', nameGap: 92,
    nameTextStyle: { fontFamily: FONT, fontSize: 28, color: '#111111' },
    axisLine: { show: false }, axisTick: { show: false }, splitLine: { show: false },
    axisLabel: {
      customValues: xTickYears,
      formatter: function (v) { return String(Math.round(v)); },
      margin: 48, fontFamily: FONT, fontSize: 27, color: '#555555'
    }
  },
  yAxis: [
    {
      type: 'value', position: 'left', min: -5, max: 6, interval: 1,
      name: 'CARA Indicator (z-Score)', nameLocation: 'middle', nameGap: 86, nameRotate: 90,
      nameTextStyle: { fontFamily: FONT, fontSize: 28, color: '#111111' },
      axisLine: { show: false }, axisTick: { show: false }, splitLine: { show: false },
      axisLabel: {
        formatter: function (v) { return yTickValues.indexOf(v) >= 0 ? String(v) : ''; },
        margin: 38, fontFamily: FONT, fontSize: 27, color: '#555555'
      }
    },
    {
      type: 'value', position: 'right', min: -5, max: 6, interval: 1,
      name: 'BTC/Gold (z-Score)', nameLocation: 'middle', nameGap: 84, nameRotate: -90,
      nameTextStyle: { fontFamily: FONT, fontSize: 28, color: '#111111' },
      axisLine: { show: false }, axisTick: { show: false }, splitLine: { show: false },
      axisLabel: {
        formatter: function (v) { return yTickValues.indexOf(v) >= 0 ? String(v) : ''; },
        margin: 36, fontFamily: FONT, fontSize: 27, color: '#555555'
      }
    }
  ],
  series: [
    {
      name: 'gridlines', type: 'line', data: [], yAxisIndex: 0, z: 1, silent: true,
      markLine: {
        silent: true, symbol: ['none', 'none'], label: { show: false },
        lineStyle: { type: 'solid', color: '#dddddd', width: 1 },
        data: [
          { yAxis: 6 }, { yAxis: 3 }, { yAxis: -3 },
          { yAxis: 0, lineStyle: { type: 'solid', color: '#111111', width: 1.3 } }
        ]
      }
    },
    {
      name: seriesNames[0], type: 'line', yAxisIndex: 0, data: cara, z: 4,
      showSymbol: false, symbol: 'none', smooth: false,
      lineStyle: { color: '#3ccf80', width: 2.2 }, itemStyle: { color: '#3ccf80' }
    },
    {
      name: seriesNames[1], type: 'line', yAxisIndex: 1, data: btcGold, z: 3,
      showSymbol: false, symbol: 'none', smooth: false,
      lineStyle: { color: '#35383d', width: 2.6 }, itemStyle: { color: '#35383d' }
    }
  ],
  graphic: [
    { type: 'text', left: 77, top: 1331, style: { text: 'Source: Bloomberg, Bitwise Europe', font: '20px "Liberation Sans", Arial, sans-serif', fill: '#111111' } },
    { type: 'text', left: 1582, top: 1289, style: { text: 'Bitwise', font: 'bold 97px "Liberation Serif", "DejaVu Serif", serif', fill: '#111111' } },
    { type: 'text', left: 1889, top: 1314, style: { text: '®', font: '18px "Liberation Serif", serif', fill: '#111111' } }
  ]
};
chart.setOption(option);
</script>
</body>
</html>
